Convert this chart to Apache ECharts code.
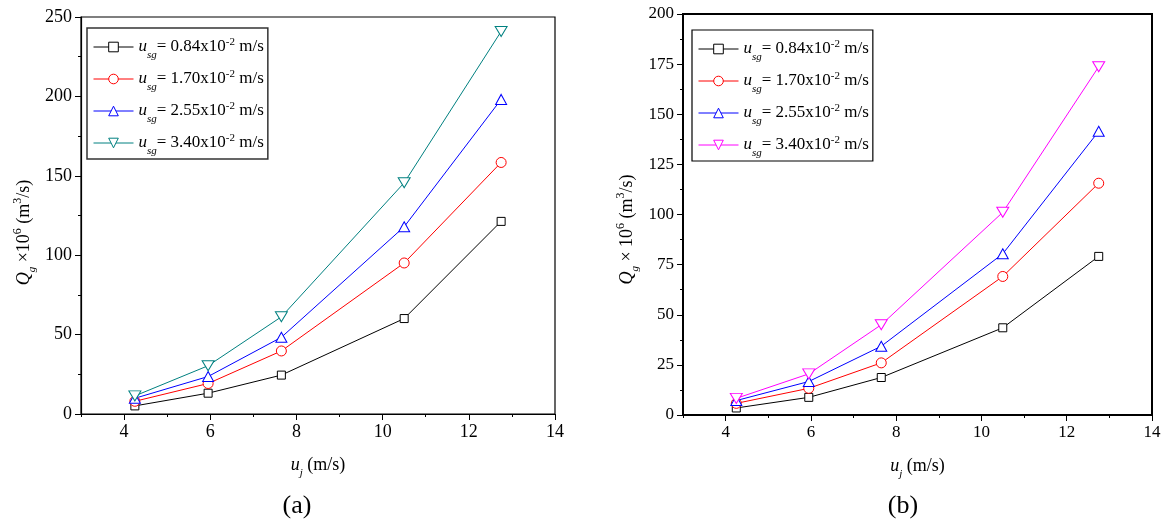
<!DOCTYPE html>
<html>
<head>
<meta charset="utf-8">
<script src="https://cdn.jsdelivr.net/npm/echarts@6/dist/echarts.min.js"></script>
<style>
  html, body { margin: 0; padding: 0; background: #fff; }
  #chart { width: 1166px; height: 523px; }
</style>
</head>
<body>
<div id="chart"></div>
<script>
// Jet velocity u_j (m/s), shared by both panels
const uj = [4.25, 5.95, 7.65, 10.5, 12.75];

// Superficial gas velocities used in the legends (x10^-2 m/s)
const usgLabels = ['0.84', '1.70', '2.55', '3.40'];

// Panel (a): gas flow rate Q_g x10^6 (m^3/s)
const qa084 = [5.1, 13.1, 24.5, 60.1, 121.3];
const qa170 = [8.0, 19.2, 39.7, 95.1, 158.4];
const qa255 = [9.9, 23.6, 48.3, 117.9, 198.1];
const qa340 = [11.4, 30.4, 61.2, 145.6, 240.9];

// Panel (b): gas flow rate Q_g x10^6 (m^3/s)
const qb084 = [3.5, 8.8, 18.7, 43.5, 79.1];
const qb170 = [5.8, 13.3, 26.0, 69.1, 115.6];
const qb255 = [7.2, 16.7, 34.3, 80.4, 141.5];
const qb340 = [8.3, 20.5, 45.0, 101.1, 173.7];

// Axis tick labels
const xMajorTicks = [4, 6, 8, 10, 12, 14];

const FONT = 'Liberation Serif';
const downTri = 'path://M0,0L12,0L6,10Z';

const symbols = ['rect', 'circle', 'triangle', downTri];
const symbolSizes = [8, 10, [11, 10], [12, 10]];
const colorsA = ['#000000', '#ff0000', '#0000ff', '#008080'];
const colorsB = ['#000000', '#ff0000', '#0000ff', '#ff00ff'];

const namesA = usgLabels.map(l => 'a ' + l);
const namesB = usgLabels.map(l => 'b ' + l);

function lineSeries(name, vals, xi, yi, color, k) {
  return {
    type: 'line',
    name: name,
    xAxisIndex: xi,
    yAxisIndex: yi,
    data: uj.map((x, i) => [x, vals[i]]),
    symbol: symbols[k],
    symbolSize: symbolSizes[k],
    showAllSymbol: true,
    color: color,
    lineStyle: { color: color, width: 1 },
    itemStyle: { color: '#fff', borderColor: color, borderWidth: 1 },
    emphasis: { disabled: true },
    animation: false
  };
}

const seriesA = [qa084, qa170, qa255, qa340].map((v, k) => lineSeries(namesA[k], v, 0, 0, colorsA[k], k));
const seriesB = [qb084, qb170, qb255, qb340].map((v, k) => lineSeries(namesB[k], v, 2, 1, colorsB[k], k));

// Rich-text styles: every token shares one line height; sub/superscripts are
// shifted with asymmetric padding (centre moves by (top - bottom) / 2).
const LH = 28;
const legendRich = {
  u: { fontFamily: FONT, fontStyle: 'italic', fontSize: 17, lineHeight: LH, color: '#000' },
  s: { fontFamily: FONT, fontStyle: 'italic', fontSize: 11, lineHeight: LH, padding: [17, 0, 0, 0], color: '#000' },
  n: { fontFamily: FONT, fontSize: 17, lineHeight: LH, color: '#000' },
  p: { fontFamily: FONT, fontSize: 11, lineHeight: LH, padding: [0, 0, 10, 0], color: '#000' }
};

function legendText(name) {
  const l = name.split(' ')[1];
  return '{u|u}{s|sg}{n|= ' + l + 'x10}{p|-2}{n| m/s}';
}

function legendOpt(names, left, top, border, bw) {
  return {
    data: names,
    orient: 'vertical',
    left: left,
    top: top,
    itemWidth: 40,
    itemHeight: 12,
    itemGap: 4,
    itemTextGap: 5,
    padding: [5, 4, 2, 6],
    borderColor: border,
    borderWidth: bw,
    backgroundColor: '#fff',
    selectedMode: false,
    itemStyle: { borderWidth: 1 },
    lineStyle: { width: 1 },
    formatter: legendText,
    textStyle: { fontFamily: FONT, fontSize: 17, lineHeight: LH, color: '#000', rich: legendRich }
  };
}

const axisNameRich = {
  q: { fontFamily: FONT, fontStyle: 'italic', fontSize: 18, lineHeight: LH, color: '#000' },
  s: { fontFamily: FONT, fontStyle: 'italic', fontSize: 11, lineHeight: LH, padding: [16, 0, 0, 0], color: '#000' },
  n: { fontFamily: FONT, fontSize: 18, lineHeight: LH, color: '#000' },
  p: { fontFamily: FONT, fontSize: 12, lineHeight: LH, padding: [0, 0, 12, 0], color: '#000' }
};

function xMain(grid, lw, fs) {
  return {
    type: 'value', gridIndex: grid, position: 'bottom',
    min: 3, max: 14, interval: 1,
    name: '{q|u}{s|j}{n| (m/s)}',
    nameLocation: 'middle', nameGap: 37,
    nameTextStyle: { rich: axisNameRich, lineHeight: LH },
    axisLine: { show: true, onZero: false, lineStyle: { color: '#000', width: lw } },
    axisTick: { show: true, inside: false, length: 3, lineStyle: { color: '#000', width: 1 } },
    axisLabel: {
      fontFamily: FONT, fontSize: fs, color: '#000', margin: 9,
      formatter: v => (v % 2 === 0 ? String(v) : '')
    },
    splitLine: { show: false }
  };
}

function xMajor(grid) {
  return {
    type: 'value', gridIndex: grid, position: 'bottom',
    min: 3, max: 14, interval: 1,
    axisLine: { show: false, onZero: false },
    axisTick: { show: true, inside: false, length: 6, customValues: xMajorTicks, lineStyle: { color: '#000', width: 1 } },
    axisLabel: { show: false },
    splitLine: { show: false }
  };
}

function yMain(grid, max, interval, name, gap, pad, lw, fs) {
  return {
    type: 'value', gridIndex: grid,
    min: 0, max: max, interval: interval,
    name: name,
    nameLocation: 'middle', nameGap: gap, nameRotate: 90,
    nameTextStyle: { rich: axisNameRich, lineHeight: LH, padding: pad },
    axisLine: { show: true, onZero: false, lineStyle: { color: '#000', width: lw } },
    axisTick: { show: true, inside: false, length: 6, lineStyle: { color: '#000', width: 1 } },
    minorTick: { show: true, splitNumber: 2, length: 3, lineStyle: { color: '#000', width: 1 } },
    axisLabel: { fontFamily: FONT, fontSize: fs, color: '#000', margin: 9 },
    splitLine: { show: false },
    minorSplitLine: { show: false }
  };
}

const chart = echarts.init(document.getElementById('chart'), null, { renderer: 'canvas' });

chart.setOption({
  backgroundColor: '#fff',
  animation: false,
  title: [
    { text: '(a)', left: 292, top: 488, textAlign: 'center',
      textStyle: { fontFamily: FONT, fontSize: 26, fontWeight: 'normal', color: '#000' } },
    { text: '(b)', left: 898, top: 488, textAlign: 'center',
      textStyle: { fontFamily: FONT, fontSize: 26, fontWeight: 'normal', color: '#000' } }
  ],
  grid: [
    { left: 81, top: 17, width: 474, height: 397, show: true, borderColor: '#000', borderWidth: 1.2, backgroundColor: 'transparent' },
    { left: 683, top: 14, width: 469, height: 401, show: true, borderColor: '#000', borderWidth: 2, backgroundColor: 'transparent' }
  ],
  xAxis: [xMain(0, 1.2, 18), xMajor(0), xMain(1, 1.6, 17), xMajor(1)],
  yAxis: [
    yMain(0, 250, 50, '{q|Q}{s|g}{n| ×10}{p|6}{n| (m}{p|3}{n|/s)}', 43, [0, 34, 0, 0], 1.2, 18),
    yMain(1, 200, 25, '{q|Q}{s|g}{n| × 10}{p|6}{n| (m}{p|3}{n|/s)}', 42, [0, 30, 0, 0], 1.6, 17)
  ],
  legend: [
    legendOpt(namesA, 87, 28, '#333', 1.5),
    legendOpt(namesB, 692, 30, '#000', 1.2)
  ],
  series: seriesA.concat(seriesB)
});
</script>
</body>
</html>
